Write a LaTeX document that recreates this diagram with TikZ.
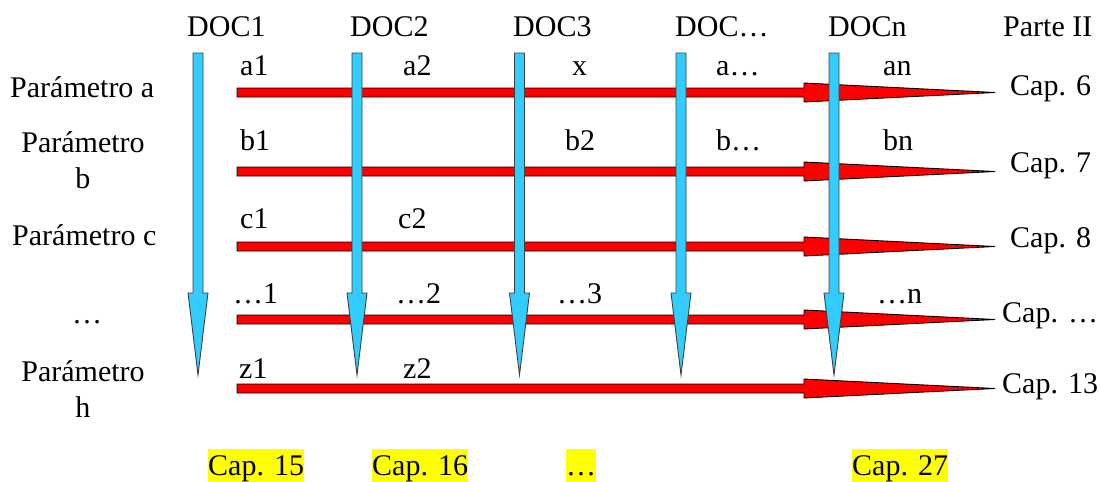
\documentclass[tikz,border=0pt]{standalone}
\usepackage{fontspec}
\setmainfont{Liberation Serif}
\usetikzlibrary{calc}
\definecolor{arrowblue}{RGB}{51,204,255}
\definecolor{arrowedge}{RGB}{64,64,64}
\definecolor{hl}{RGB}{255,255,0}
\tikzset{
  redarrow/.style={fill=red, draw=black, line width=0.9pt},
  bluearrow/.style={fill=arrowblue, draw=arrowedge, line width=0.9pt},
  lbl/.style={inner sep=0pt, anchor=base west},
  rowlbl/.style={inner sep=0pt, anchor=base, align=center},
  hlbox/.style={inner sep=0pt, anchor=base west, fill=hl, text height=26.5pt, text depth=6.5pt},
  every node/.style={font=\fontsize{30}{36}\selectfont}
}
% horizontal red arrow: #1 tail coordinate, #2 tip coordinate
\newcommand\hArrow[2]{%
  \path[redarrow] let \p1=(#1), \p2=(#2) in
    (\x1,\y1+4.5pt) -- (\x2-191pt,\y1+4.5pt) -- (\x2-191pt,\y1+9.5pt) -- (\x2,\y2)
    -- (\x2-191pt,\y1-9.5pt) -- (\x2-191pt,\y1-4.5pt) -- (\x1,\y1-4.5pt) -- cycle;}
% vertical blue arrow: #1 top coordinate, #2 tip coordinate
\newcommand\vArrow[2]{%
  \path[bluearrow] let \p1=(#1), \p2=(#2) in
    (\x1-5pt,\y1) -- (\x1-5pt,\y2+82pt) -- (\x1-10pt,\y2+82pt) -- (\x2,\y2)
    -- (\x1+10pt,\y2+82pt) -- (\x1+5pt,\y2+82pt) -- (\x1+5pt,\y1) -- cycle;}
\begin{document}
\begin{tikzpicture}[x=1pt,y=-1pt]
\useasboundingbox (0,0) rectangle (1101,482);
% arrow end points
\foreach \k/\y in {1/92.5,2/171.5,3/246.5,4/319.5,5/388.5}{
  \coordinate (r\k s) at (237,\y);
  \coordinate (r\k e) at (995,\y);
}
\foreach \k/\x in {1/198,2/357,3/519.5,4/681,5/834}{
  \coordinate (d\k s) at (\x,53);
  \coordinate (d\k e) at (\x,375);
}
% red arrows (below)
\foreach \k in {1,...,5}{\hArrow{r\k s}{r\k e}}
% blue arrows (on top)
\foreach \k in {1,...,5}{\vArrow{d\k s}{d\k e}}
% headers
\node[lbl] (h1) at (187,36) {DOC1};
\node[lbl] (h2) at (350,36) {DOC2};
\node[lbl] (h3) at (513,36) {DOC3};
\node[lbl] (h4) at (675,36) {DOC…};
\node[lbl] (h5) at (828,36) {DOCn};
\node[lbl] (h6) at (1003,36) {Parte II};
% row labels
\node[lbl] (pa) at (10,97) {Parámetro a};
\node[rowlbl] (pb) at (83,188) {Parámetro\\b};
\node[lbl] (pc) at (12,245) {Parámetro c};
\node[lbl] (pd) at (72,323) {…};
\node[rowlbl] (ph) at (83,417) {Parámetro\\h};
% cells
\node[lbl] (a1) at (240,75) {a1};
\node[lbl] (a2) at (403,75) {a2};
\node[lbl] (ax) at (572,75) {x};
\node[lbl] (a4) at (716,75) {a…};
\node[lbl] (an) at (883,75) {an};
\node[lbl] (b1) at (240,150) {b1};
\node[lbl] (b2) at (565,150) {b2};
\node[lbl] (b4) at (716,150) {b…};
\node[lbl] (bn) at (883,150) {bn};
\node[lbl] (c1) at (240,228) {c1};
\node[lbl] (c2) at (398,228) {c2};
\node[lbl] (e1) at (233,303) {…1};
\node[lbl] (e2) at (396,303) {…2};
\node[lbl] (e3) at (557,303) {…3};
\node[lbl] (en) at (877,303) {…n};
\node[lbl] (z1) at (239,378) {z1};
\node[lbl] (z2) at (403,378) {z2};
% right chapters
\node[lbl] (k6) at (1010,95) {Cap. 6};
\node[lbl] (k7) at (1010,172) {Cap. 7};
\node[lbl] (k8) at (1010,247) {Cap. 8};
\node[lbl] (k9) at (1002,322) {Cap. …};
\node[lbl] (k13) at (1002,393) {Cap. 13};
% bottom chapters
\node[hlbox] (q15) at (208,475) {Cap. 15};
\node[hlbox] (q16) at (372,475) {Cap. 16};
\node[hlbox] (qd) at (566,475) {…};
\node[hlbox] (q27) at (852,475) {Cap. 27};
\end{tikzpicture}
\end{document}
